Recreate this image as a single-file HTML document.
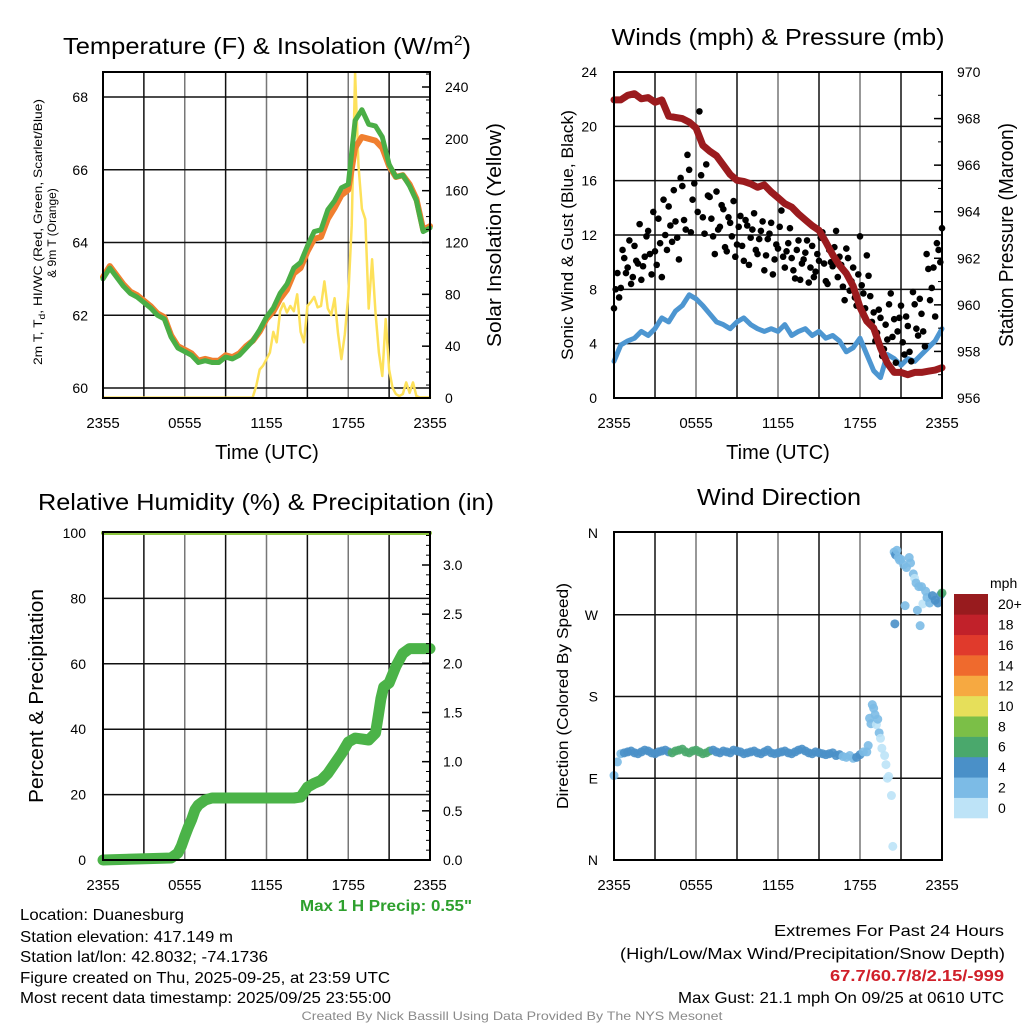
<!DOCTYPE html>
<html><head><meta charset="utf-8">
<style>
html,body{margin:0;padding:0;background:#fff;}
svg{display:block;font-family:"Liberation Sans",sans-serif;}
</style></head>
<body>
<svg id="fig" width="1024" height="1024" viewBox="0 0 1024 1024" xmlns="http://www.w3.org/2000/svg">
<rect x="0" y="0" width="1024" height="1024" fill="#fff"/>
<!-- Titles -->
<text x="63" y="54" font-size="23" textLength="408" lengthAdjust="spacingAndGlyphs">Temperature (F) &amp; Insolation (W/m<tspan dy="-9" font-size="14">2</tspan><tspan dy="9">)</tspan></text>
<text x="778" y="45" font-size="23" text-anchor="middle" textLength="333" lengthAdjust="spacingAndGlyphs">Winds (mph) &amp; Pressure (mb)</text>
<text x="266" y="510" font-size="23" text-anchor="middle" textLength="456" lengthAdjust="spacingAndGlyphs">Relative Humidity (%) &amp; Precipitation (in)</text>
<text x="779" y="505" font-size="23" text-anchor="middle" textLength="164" lengthAdjust="spacingAndGlyphs">Wind Direction</text>
<!-- axis titles -->
<text transform="translate(42,232) rotate(-90)" font-size="12" text-anchor="middle" textLength="266" lengthAdjust="spacingAndGlyphs">2m T, T<tspan dy="3" font-size="9">d</tspan><tspan dy="-3">, HI/WC (Red, Green, Scarlet/Blue)</tspan></text>
<text transform="translate(56,233) rotate(-90)" font-size="12" text-anchor="middle">&amp; 9m T (Orange)</text>
<text transform="translate(501,235) rotate(-90)" font-size="20" text-anchor="middle" textLength="224" lengthAdjust="spacingAndGlyphs">Solar Insolation (Yellow)</text>
<text transform="translate(573,235) rotate(-90)" font-size="17" text-anchor="middle" textLength="250" lengthAdjust="spacingAndGlyphs">Sonic Wind &amp; Gust (Blue, Black)</text>
<text transform="translate(1013,235) rotate(-90)" font-size="20" text-anchor="middle" textLength="224" lengthAdjust="spacingAndGlyphs">Station Pressure (Maroon)</text>
<text transform="translate(43,696) rotate(-90)" font-size="20" text-anchor="middle" textLength="214" lengthAdjust="spacingAndGlyphs">Percent &amp; Precipitation</text>
<text transform="translate(568,696) rotate(-90)" font-size="16" text-anchor="middle" textLength="226" lengthAdjust="spacingAndGlyphs">Direction (Colored By Speed)</text>
<text x="267" y="459" font-size="20" text-anchor="middle">Time (UTC)</text>
<text x="778" y="459" font-size="20" text-anchor="middle">Time (UTC)</text>
<text x="472" y="911" font-size="16" font-weight="bold" fill="#2ea02e" text-anchor="end" textLength="172" lengthAdjust="spacingAndGlyphs">Max 1 H Precip: 0.55"</text>
<!-- info text -->
<g font-size="16">
<text x="20" y="920" textLength="164" lengthAdjust="spacingAndGlyphs">Location: Duanesburg</text>
<text x="20" y="942" textLength="213" lengthAdjust="spacingAndGlyphs">Station elevation: 417.149 m</text>
<text x="20" y="962" textLength="248" lengthAdjust="spacingAndGlyphs">Station lat/lon: 42.8032; -74.1736</text>
<text x="20" y="983" textLength="370" lengthAdjust="spacingAndGlyphs">Figure created on Thu, 2025-09-25, at 23:59 UTC</text>
<text x="20" y="1003" textLength="371" lengthAdjust="spacingAndGlyphs">Most recent data timestamp: 2025/09/25 23:55:00</text>
</g>
<g font-size="16" text-anchor="end">
<text x="1004" y="936" textLength="230" lengthAdjust="spacingAndGlyphs">Extremes For Past 24 Hours</text>
<text x="1005" y="959" textLength="385" lengthAdjust="spacingAndGlyphs">(High/Low/Max Wind/Precipitation/Snow Depth)</text>
<text x="1004" y="981" fill="#d0202a" font-weight="bold" textLength="174" lengthAdjust="spacingAndGlyphs">67.7/60.7/8/2.15/-999</text>
<text x="1004" y="1003" textLength="326" lengthAdjust="spacingAndGlyphs">Max Gust: 21.1 mph On 09/25 at 0610 UTC</text>
</g>
<text x="512" y="1020" font-size="12" fill="#8a8a8a" text-anchor="middle" textLength="421" lengthAdjust="spacingAndGlyphs">Created By Nick Bassill Using Data Provided By The NYS Mesonet</text>
<g id="plots"></g>
</svg>
<script>
// ---------- DATA ----------
const xTickLabels = ["2355","0555","1155","1755","2355"];
// temperature every 30 min (F)
const tempGreen = [63.0,63.3,63.05,62.8,62.6,62.5,62.35,62.2,62.0,61.9,61.4,61.1,61.0,60.9,60.7,60.75,60.7,60.7,60.85,60.8,60.9,61.1,61.3,61.6,61.95,62.2,62.6,62.85,63.3,63.45,63.9,64.3,64.35,64.9,65.15,65.5,65.6,67.35,67.65,67.25,67.2,66.9,66.15,65.8,65.85,65.55,65.15,64.3,64.4];
const tempOrange = [63.05,63.35,63.1,62.85,62.65,62.55,62.4,62.25,62.05,61.95,61.45,61.15,61.05,60.95,60.75,60.8,60.75,60.75,60.9,60.85,60.95,61.15,61.3,61.55,61.9,62.1,62.45,62.7,63.15,63.3,63.75,64.1,64.15,64.65,64.95,65.3,65.45,66.6,66.9,66.85,66.8,66.6,66.1,65.8,65.85,65.6,65.2,64.35,64.45];
// insolation every 15 min (W/m2), starting 11h
const solarStart = 11;
const solar = [1,9.5,22,25,30,35,51,43,67,73,66,71,67,80,51,43,71,74,78,70,71,90,69,64,77,50,30,49,79,133,251,179,146,138,69,107,66,35,17,61,22,8,3,1.5,3,12,4,12,1.5,0.5,0.5,0.5,0.5];
// pressure every 30 min (mb)
const pressure = [968.8,968.8,969.0,969.07,968.85,968.9,968.7,968.8,968.1,968.05,968.0,967.85,967.6,966.85,966.6,966.4,966.0,965.6,965.35,965.3,965.2,965.05,965.15,964.85,964.6,964.35,964.2,963.9,963.65,963.4,963.2,962.7,962.15,961.7,961.35,960.8,959.9,959.3,959.0,958.15,957.5,957.1,957.1,957.0,957.1,957.1,957.15,957.2,957.3];
// sonic wind speed every 30 min (mph)
const windSpd = [2.7,3.9,4.2,4.4,4.9,4.6,5.1,5.9,5.6,6.4,6.8,7.6,7.3,6.8,6.2,5.6,5.4,5.1,5.6,5.9,5.4,5.1,4.9,5.1,4.9,5.4,4.6,4.9,5.1,4.6,4.9,4.4,4.6,4.2,3.4,3.7,4.4,3.2,2.0,1.5,3.2,2.9,2.4,2.9,2.7,3.2,3.7,4.2,5.1];
// gusts every 15 min (mph)
const gust = [6.6,9.2,8.1,10.3,9.6,8.4,11.2,9.9,8.7,10.4,12.3,9.1,10.8,13.2,8.9,12.0,14.1,11.5,13.0,10.2,15.6,12.4,16.8,14.6,19.9,21.1,13.3,17.2,14.8,11.9,15.2,12.6,13.9,10.8,12.9,14.5,11.3,13.4,10.1,12.7,11.8,13.6,10.6,12.3,9.4,11.7,12.9,10.2,11.0,13.8,9.6,11.4,10.3,8.8,11.6,9.9,10.7,8.5,11.2,9.3,10.1,12.2,8.6,10.9,9.7,12.3,10.4,8.2,11.0,7.9,9.6,6.8,11.9,7.7,10.5,7.5,6.3,4.8,5.9,3.6,4.3,7.7,5.8,4.9,6.8,3.2,5.3,2.7,6.9,4.6,6.2,3.8,9.5,8.1,6.0,10.9,12.5];
const gustB = [8.0,7.4,10.9,9.2,11.6,8.9,10.1,12.8,9.7,11.9,10.6,13.7,9.8,11.4,14.6,10.9,12.7,15.3,11.8,16.2,13.1,17.9,12.2,15.8,13.7,16.4,12.1,14.9,13.2,10.6,12.4,14.2,11.1,13.3,11.9,10.4,12.6,11.2,13.1,9.8,12.4,10.9,11.7,13.0,10.5,12.1,9.1,11.3,12.6,10.4,10.8,12.5,9.4,10.9,8.7,10.2,11.6,9.6,8.9,10.6,11.8,9.9,8.4,10.0,11.1,8.9,9.8,7.2,10.3,8.6,7.4,9.1,8.3,6.6,9.0,5.6,4.2,6.5,3.1,5.4,6.9,4.5,2.6,5.9,4.1,6.0,3.4,7.8,5.1,7.3,4.9,10.6,7.2,9.6,11.4,10.0];
// precipitation cumulative (in)
const precipT = [0,5,5.5,5.75,6,6.25,6.5,6.75,7,7.5,8,14,14.5,15,15.5,16,16.5,17,17.5,18,18.5,19,19.5,20,20.2,20.4,20.6,21,21.5,22,22.5,23,24];
const precipV = [0,0.02,0.07,0.14,0.24,0.33,0.41,0.51,0.56,0.61,0.63,0.63,0.64,0.74,0.78,0.81,0.88,0.98,1.08,1.2,1.24,1.23,1.22,1.29,1.46,1.64,1.76,1.8,1.97,2.1,2.15,2.15,2.15];
// relative humidity hourly (%)
const rh = [100,100,100,100,100,100,100,100,100,100,100,100,100,100,100,100,100,100,100,100,100,100,100,100,100];
// wind direction: band every 15 min from 0h (deg)
const dirBand = [93,108,117,118,119,120,118,117,119,121,120,118,117,119,120,121,119,118,120,121,122,119,118,120,121,119,117,118,120,121,119,118,120,119,118,121,120,119,117,118,119,120,118,117,119,121,118,117,118,119,120,118,117,119,121,122,120,118,117,119,118,117,116,117,118,115,116,114,113,115,112,113,116,119];
const dirTailT = [18.5,18.6,18.7,18.8,18.9,19.0,19.1,19.2,19.3,19.4,19.5,19.6,19.8,19.9,20.0,20.1,20.3,20.4,20.5,20.55,20.6,20.7,20.8,20.9,21.0,21.2,21.3,21.4,21.6,21.7,21.9,22.0,22.1,22.2,22.3,22.4,22.5,22.6,22.8,22.9,23.1,23.3,23.5,23.7,23.9,24.0];
const dirTailD = [119,126,156,150,171,167,160,149,155,140,134,123,115,105,90,92,71,15,339,260,336,341,333,330,331,325,280,322,333,327,315,310,305,275,301,258,301,282,296,289,283,291,286,283,292,294];
const dirTailS = [3.5,2.5,2.2,2.6,2.0,2.4,2.1,1.8,2.3,2.2,1.6,1.2,1.4,1.0,0.8,1.5,1.2,0.5,3.1,4.5,4.2,3.6,2.8,3.3,2.6,3.0,2.4,2.8,2.2,3.1,2.9,1.6,2.4,2.7,3.2,2.5,2.1,1.9,3.4,2.6,3.1,4.2,4.6,4.1,5.2,6.3];
const speedColors = ["#bde3f7","#7cbbe6","#4a90c8","#4aa86c","#7bbf47","#e6df5a","#f6a941","#ef6a2d","#e03a2c","#c1212a","#981b1e"];
const speedLabels = ["0","2","4","6","8","10","12","14","16","18","20+"];

// ---------- HELPERS ----------
const NS = "http://www.w3.org/2000/svg";
const root = document.getElementById("plots");
function mk(tag, attrs, parent) {
  const e = document.createElementNS(NS, tag);
  for (const k in attrs) e.setAttribute(k, attrs[k]);
  (parent || root).appendChild(e);
  return e;
}
function linScale(d0, d1, r0, r1) { return v => r0 + (v - d0) / (d1 - d0) * (r1 - r0); }

function frame(name, x0, x1, y0, y1, hLines) {
  const g = mk("g", {});
  
  
  const xs = linScale(0, 24, x0, x1);
  for (let h = 3; h < 24; h += 3) {
    const l = mk("line", {x1: xs(h), x2: xs(h), y1: y0, y2: y1, stroke: (h % 6 === 0) ? "#777" : "#111", "stroke-width": 1.5}, g);
    
    
  }
  hLines.forEach(y => {
    const l = mk("line", {x1: x0, x2: x1, y1: y, y2: y, stroke: "#111", "stroke-width": 1.5}, g);
    
    
  });
  for (let i = 0; i < xTickLabels.length; i++) {
    const t = mk("text", {x: xs(i * 6), y: y1 + 30, "font-size": 15, "text-anchor": "middle"}, g);
    t.textContent = xTickLabels[i];
    
    
  }
  return {g, xs};
}
function border(g, x0, x1, y0, y1) {
  const r = mk("rect", {x: x0, y: y0, width: x1 - x0, height: y1 - y0, fill: "none", stroke: "#000", "stroke-width": 2}, g);
  
  
}
function ticksLeft(g, x, vals, ys, fmt) {
  vals.forEach(v => {
    const t = mk("text", {x: x, y: ys(v) + 5, "font-size": 14, "text-anchor": "end"}, g);
    t.textContent = fmt(v);
    
    
  });
}
function ticksRight(g, xAxis, x, vals, ys, fmt, minorStep, vmin, vmax) {
  for (let v = vmin; v <= vmax + 1e-9; v += minorStep) {
    const tk = mk("line", {x1: xAxis, x2: xAxis - 4, y1: ys(v), y2: ys(v), stroke: "#000", "stroke-width": 1}, g);
    
    
  }
  vals.forEach(v => {
    const tk = mk("line", {x1: xAxis, x2: xAxis - 8, y1: ys(v), y2: ys(v), stroke: "#000", "stroke-width": 1.5}, g);
    
    
    const t = mk("text", {x: x, y: ys(v) + 5, "font-size": 14}, g);
    t.textContent = fmt(v);
    
    
  });
}
function path(g, pts, stroke, width, name) {
  const p = mk("polyline", {points: pts.map(p => p[0].toFixed(1) + "," + p[1].toFixed(1)).join(" "), fill: "none", stroke: stroke, "stroke-width": width, "stroke-linejoin": "round", "stroke-linecap": "round"}, g);
  
  
  return p;
}
function spdColor(s) { return speedColors[Math.max(0, Math.min(10, Math.floor(s / 2)))]; }

// ---------- PANEL 1: Temperature ----------
(function () {
  const X0 = 103, X1 = 430, Y0 = 72, Y1 = 398;
  const yT = linScale(60, 68, 388, 97);
  const yS = linScale(0, 240, 398, 87);
  const {g, xs} = frame("temperature", X0, X1, Y0, Y1, [60, 62, 64, 66, 68].map(yT));
  const sol = [];
  for (let i = 0; i <= 44; i++) sol.push([xs(i * 0.25), yS(0.3)]);
  solar.forEach((v, i) => sol.push([xs(solarStart + i * 0.25), yS(v)]));
  path(g, sol, "#fde15a", 2.5, "solar-insolation-line");
  path(g, tempOrange.map((v, i) => [xs(i * 0.5), yT(v)]), "#f07f2f", 6, "temp-9m-line");
  path(g, tempGreen.map((v, i) => [xs(i * 0.5), yT(v)]), "#4aae46", 5, "dewpoint-line");
  ticksLeft(g, 88, [60, 62, 64, 66, 68], yT, v => String(v));
  ticksRight(g, X1, 445, [0, 40, 80, 120, 160, 200, 240], yS, v => String(v), 10, 0, 250);
  border(g, X0, X1, Y0, Y1);
})();

// ---------- PANEL 2: Winds ----------
(function () {
  const X0 = 614, X1 = 942, Y0 = 72, Y1 = 398;
  const yW = linScale(0, 24, 398, 72);
  const yP = linScale(956, 970, 398, 72);
  const {g, xs} = frame("winds", X0, X1, Y0, Y1, [4, 8, 12, 16, 20].map(yW));
  path(g, windSpd.map((v, i) => [xs(i * 0.5), yW(v)]), "#4d96d1", 5, "sonic-wind-line");
  gust.forEach((v, i) => {
    const c = mk("circle", {cx: xs(i * 0.25), cy: yW(v), r: 3.3, fill: "#000"}, g);
    
    
  });
  gustB.forEach((v, i) => {
    const c = mk("circle", {cx: xs(i * 0.25 + 0.125), cy: yW(v), r: 3.3, fill: "#000"}, g);
    
    
  });
  path(g, pressure.map((v, i) => [xs(i * 0.5), yP(v)]), "#9b1b1e", 7, "pressure-line");
  ticksLeft(g, 597, [0, 4, 8, 12, 16, 20, 24], yW, v => String(v));
  ticksRight(g, X1, 957, [956, 958, 960, 962, 964, 966, 968, 970], yP, v => String(v), 1, 956, 970);
  border(g, X0, X1, Y0, Y1);
})();

// ---------- PANEL 3: RH & Precip ----------
(function () {
  const X0 = 103, X1 = 430, Y0 = 532, Y1 = 860;
  const yR = linScale(0, 100, 860, 533);
  const yPr = linScale(0, 3, 860, 565);
  const {g, xs} = frame("humidity", X0, X1, Y0, Y1, [20, 40, 60, 80].map(yR));
  path(g, rh.map((v, i) => [xs(i), yR(v)]), "#8dc63f", 4, "rh-line");
  path(g, precipT.map((t, i) => [xs(t), yPr(precipV[i])]), "#4bb348", 11, "precip-line");
  ticksLeft(g, 86, [0, 20, 40, 60, 80, 100], yR, v => String(v));
  ticksRight(g, X1, 443, [0, 0.5, 1, 1.5, 2, 2.5, 3], yPr, v => v.toFixed(1), 0.1, 0, 3.3);
  border(g, X0, X1, Y0, Y1);
})();

// ---------- PANEL 4: Wind direction ----------
(function () {
  const X0 = 614, X1 = 942, Y0 = 532, Y1 = 860;
  const yD = linScale(0, 360, 860, 533);
  const {g, xs} = frame("direction", X0, X1, Y0, Y1, [90, 180, 270].map(yD));
  dirBand.forEach((d, i) => {
    const t = i * 0.25;
    const s = windSpd[Math.min(windSpd.length - 1, Math.round(t * 2))];
    const c = mk("circle", {cx: xs(t), cy: yD(d), r: 4.5, fill: spdColor(s), "fill-opacity": 0.9}, g);
    
    
  });
  dirTailT.forEach((t, i) => {
    const c = mk("circle", {cx: xs(t), cy: yD(dirTailD[i]), r: 4.5, fill: spdColor(dirTailS[i]), "fill-opacity": 0.9}, g);
    
    
  });
  ticksLeft(g, 598, [0, 90, 180, 270, 360], yD, v => ["N", "E", "S", "W", "N"][v / 90]);
  border(g, X0, X1, Y0, Y1);
  // colorbar
  const cb = mk("g", {});
  
  
  const bh = 224 / 11;
  speedColors.forEach((col, i) => {
    const y = 818 - (i + 1) * bh;
    const r = mk("rect", {x: 954, y: y, width: 34, height: bh + 0.3, fill: col}, cb);
    
    
    const t = mk("text", {x: 998, y: y + bh / 2 + 5, "font-size": 14}, cb);
    t.textContent = speedLabels[i];
    
    
  });
  const u = mk("text", {x: 990, y: 588, "font-size": 14}, cb);
  u.textContent = "mph";
  
  
})();
</script>
</body></html>
